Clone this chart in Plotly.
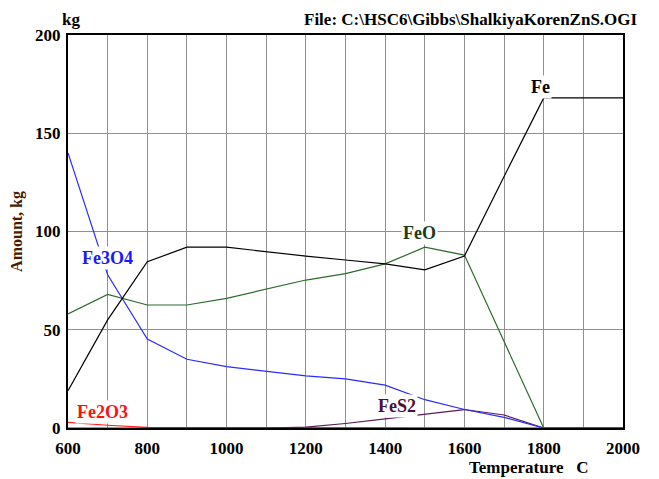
import plotly.graph_objects as go

temps = [600, 700, 800, 900, 1000, 1100, 1200, 1300, 1400, 1500, 1600, 1700, 1800, 1900, 2000]
fe = [19, 55, 84.6, 92, 92, 89.7, 87.5, 85.5, 83.5, 80.5, 87.5, 128, 168, 168, 168]
feo = [58, 68, 62.6, 62.6, 66, 70.6, 75.3, 78.6, 83.5, 92, 88, 44, 0, 0, 0]
fe3o4 = [140, 78, 45.3, 35, 31.2, 28.7, 26.5, 25, 21.8, 14.4, 9.4, 5.4, 0, 0, 0]
fes2 = [0, 0, 0, 0, 0, 0, 0.4, 2.3, 4.6, 7.1, 9.4, 6.6, 0, 0, 0]
fe2o3 = [2.9, 1.4, 0.3, 0.2, 0.2, 0.2, 0.2, 0.2, 0.2, 0.2, 0.2, 0, 0, 0, 0]

series = [
    ("Fe2O3", fe2o3, "#ff2020"),
    ("FeS2", fes2, "#5a1a55"),
    ("Fe3O4", fe3o4, "#2a2aff"),
    ("FeO", feo, "#2e6a2e"),
    ("Fe", fe, "#000000"),
]

FONT = "Liberation Serif"

fig = go.Figure()
for name, vals, col in series:
    fig.add_trace(go.Scatter(x=temps, y=vals, mode="lines", name=name,
                             line=dict(color=col, width=1.2), showlegend=False))

labels = [
    ("Fe", 1792, 173.5, "#000000"),
    ("FeO", 1486, 99.2, "#1c3a1c"),
    ("Fe3O4", 700, 86.5, "#1a1aff"),
    ("Fe2O3", 688, 8.1, "#ff1010"),
    ("FeS2", 1430, 11.3, "#4a1040"),
]
for txt, x, y, col in labels:
    fig.add_annotation(x=x, y=y, text=txt, showarrow=False, xref="x", yref="y",
                       font=dict(family=FONT, size=18, color=col, weight="bold"),
                       bgcolor="white", borderpad=1)

fig.add_annotation(x=0.006, y=1.04, xref="paper", yref="paper", text="kg",
                   showarrow=False, xanchor="center", yanchor="middle",
                   font=dict(family=FONT, size=17, color="black", weight="bold"))
fig.add_annotation(x=1.03, y=1.04, xref="paper", yref="paper",
                   text="File: C:\\HSC6\\Gibbs\\ShalkiyaKorenZnS.OGI",
                   showarrow=False, xanchor="right", yanchor="middle",
                   font=dict(family=FONT, size=17, color="black", weight="bold"))
fig.add_annotation(x=0.83, y=-0.1, xref="paper", yref="paper",
                   text="Temperature&nbsp;&nbsp;&nbsp;C",
                   showarrow=False, xanchor="center", yanchor="middle",
                   font=dict(family=FONT, size=17, color="black", weight="bold"))
fig.add_annotation(x=-0.093, y=0.5, xref="paper", yref="paper", text="Amount, kg",
                   showarrow=False, textangle=-90, xanchor="center", yanchor="middle",
                   font=dict(family=FONT, size=16, color="#4a1a00", weight="bold"))

fig.update_layout(
    width=659, height=479,
    margin=dict(l=68, r=36, t=35, b=51),
    plot_bgcolor="white", paper_bgcolor="white",
    xaxis=dict(range=[600, 2000], dtick=200, tick0=600, showgrid=True,
               gridcolor="#909090", gridwidth=1,
               minor=dict(dtick=100, showgrid=True, gridcolor="#909090", gridwidth=1),
               showline=True, linecolor="black", linewidth=2, mirror=True,
               ticks="", zeroline=False, ticklabelstandoff=4,
               tickfont=dict(family=FONT, size=17, color="black", weight="bold")),
    yaxis=dict(range=[0, 200], dtick=50, showgrid=True, gridcolor="#909090", gridwidth=1,
               showline=True, linecolor="black", linewidth=2, mirror=True,
               ticks="", zeroline=False, ticklabelstandoff=2,
               tickfont=dict(family=FONT, size=17, color="black", weight="bold")),
)

fig.write_html("out.html")
